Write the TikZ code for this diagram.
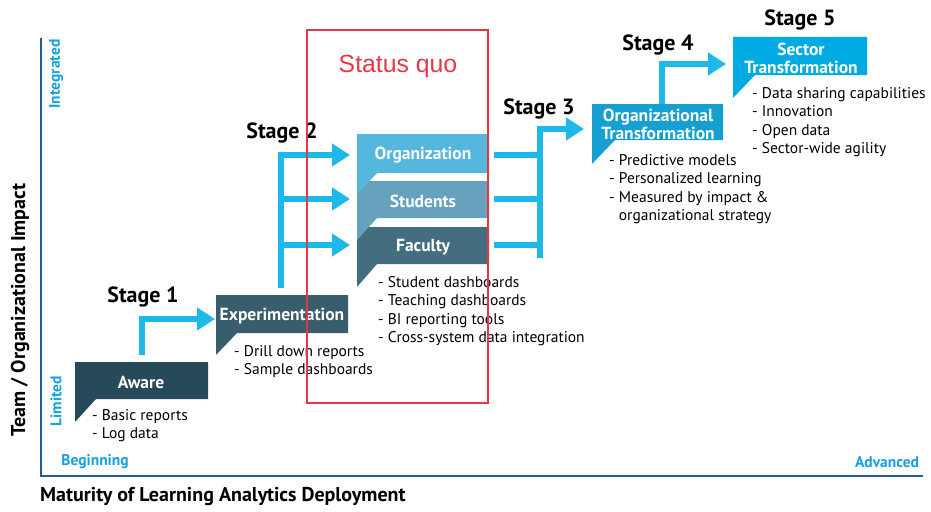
\documentclass[tikz,border=0pt]{standalone}
\usepackage{fontspec}
\setmainfont{PT Sans}
\newfontfamily\arialfont{Liberation Sans}
\usetikzlibrary{arrows.meta}
\definecolor{axisblue}{RGB}{30,90,160}
\definecolor{lblblue}{RGB}{20,160,225}
\definecolor{arrowblue}{RGB}{30,185,235}
\definecolor{awarecol}{RGB}{38,74,89}
\definecolor{expcol}{RGB}{56,93,109}
\definecolor{orgcol}{RGB}{85,183,222}
\definecolor{stucol}{RGB}{102,162,190}
\definecolor{faccol}{RGB}{66,110,128}
\definecolor{otcol}{RGB}{22,160,210}
\definecolor{sectcol}{RGB}{0,170,226}
\definecolor{sqred}{RGB}{230,55,70}
\tikzset{
  stagelbl/.style={font=\bfseries\fontsize{22}{22}\selectfont, inner sep=0},
  boxlbl/.style={text=white, font=\bfseries\fontsize{17.5}{18}\selectfont, align=center, inner sep=0},
  bullets/.style={font=\fontsize{15.5}{18.5}\selectfont, align=left, anchor=base west, inner sep=0},
  flow/.style={line width=6pt, draw=arrowblue, line join=miter, -{Triangle[width=22pt,length=18pt]}},
  bar/.style={line width=6pt, draw=arrowblue, line join=miter},
  axislbl/.style={text=lblblue, font=\bfseries\fontsize{15.5}{15.5}\selectfont, inner sep=0},
  axistitle/.style={font=\bfseries\fontsize{20}{20}\selectfont, inner sep=0},
}
\begin{document}
\begin{tikzpicture}[x=1pt,y=-1pt]
\useasboundingbox (0,0) rectangle (931,511);
% axes
\coordinate (ytop) at (41,38);
\coordinate (origin) at (41,476);
\coordinate (xend) at (923,476);
\draw[axisblue, line width=2.2pt] (ytop) -- (origin) -- (xend);
\node[axislbl, rotate=90] (integ) at (56,74) {Integrated};
\node[axislbl, rotate=90] (limit) at (56,401) {Limited};
\node[axislbl] (begin) at (95,462) {Beginning};
\node[axislbl] (adv) at (887,462) {Advanced};
\node[axistitle, rotate=90] (ytitle) at (20,310) {Team / Organizational Impact};
\node[axistitle, anchor=west] (xtitle) at (40,497) {Maturity of Learning Analytics Deployment};

% Aware (anchor = baseline of last line)
\fill[awarecol] (75,362) -- (208,362) -- (208,399) -- (96,399) -- (75,422) -- cycle;
\node[boxlbl] (aware) at (141,382) {Aware};
\node[bullets] (awareb) at (92,438.5) {- Basic reports\\- Log data};

% Experimentation
\fill[expcol] (216,295) -- (348,295) -- (348,333) -- (237,333) -- (216,355) -- cycle;
\node[boxlbl] (exper) at (282,316) {Experimentation};
\node[bullets] (experb) at (234,374.5) {- Drill down reports\\- Sample dashboards};

% Faculty, Students, Organization
\fill[faccol] (357,227) -- (489,227) -- (489,264) -- (377,264) -- (357,287) -- cycle;
\fill[stucol] (357,181) -- (489,181) -- (489,218) -- (377,218) -- (357,240) -- cycle;
\fill[orgcol] (357,134) -- (489,134) -- (489,173) -- (377,173) -- (357,194) -- cycle;
\node[boxlbl] (org) at (423,155) {Organization};
\node[boxlbl] (stu) at (423,201) {Students};
\node[boxlbl] (fac) at (423,247) {Faculty};
\node[bullets] (facb) at (378,342.5) {- Student dashboards\\- Teaching dashboards\\- BI reporting tools\\- Cross-system data integration};

% Organizational Transformation
\fill[otcol] (592,104) -- (723,104) -- (723,140) -- (615,140) -- (592,164) -- cycle;
\node[boxlbl] (ot) at (658,124) {Organizational\\Transformation};
\node[bullets] (otb) at (609,220.5) {- Predictive models\\- Personalized learning\\- Measured by impact \&\\\hphantom{- }organizational strategy};

% Sector Transformation
\fill[sectcol] (733,37) -- (867,37) -- (867,75) -- (755,75) -- (733,98) -- cycle;
\node[boxlbl] (sect) at (801,58) {Sector\\Transformation};
\node[bullets] (sectb) at (752,153.5) {- Data sharing capabilities\\- Innovation\\- Open data\\- Sector-wide agility};

% Stage labels
\node[stagelbl] (s1) at (143,297) {Stage 1};
\node[stagelbl] (s2) at (282,133) {Stage 2};
\node[stagelbl] (s3) at (539,109) {Stage 3};
\node[stagelbl] (s4) at (658,45) {Stage 4};
\node[stagelbl] (s5) at (800,20) {Stage 5};

% Stage 1 arrow
\coordinate (a1s) at (142,355);
\coordinate (a1c) at (142,319);
\coordinate (a1e) at (215,319);
\draw[flow] (a1s) -- (a1c) -- (a1e);

% Stage 2 arrows
\coordinate (a2s) at (281,288);
\coordinate (a2o) at (281,155);
\coordinate (a2st) at (281,199);
\coordinate (a2f) at (281,245);
\coordinate (a2oe) at (350,155);
\coordinate (a2ste) at (350,199);
\coordinate (a2fe) at (350,245);
\draw[flow] (a2s) -- (a2o) -- (a2oe);
\draw[flow] (a2st) -- (a2ste);
\draw[flow] (a2f) -- (a2fe);

% Stage 3 arrows
\coordinate (b3o) at (494,155);
\coordinate (b3s) at (494,199);
\coordinate (b3f) at (494,245);
\coordinate (v3o) at (540,155);
\coordinate (v3s) at (540,199);
\coordinate (v3f) at (540,245);
\coordinate (v3b) at (540,258);
\coordinate (v3t) at (540,129);
\coordinate (a3e) at (584,129);
\draw[bar] (b3o) -- (v3o);
\draw[bar] (b3s) -- (v3s);
\draw[bar] (b3f) -- (v3f);
\draw[flow] (v3b) -- (v3t) -- (a3e);

% Stage 4 arrow
\coordinate (a4s) at (662,104);
\coordinate (a4c) at (662,64);
\coordinate (a4e) at (726,64);
\draw[flow] (a4s) -- (a4c) -- (a4e);

% Status quo
\coordinate (sqtl) at (307,30);
\coordinate (sqbr) at (488,403);
\draw[sqred, line width=1.2pt] (sqtl) rectangle (sqbr);
\node[text=sqred, font=\arialfont\fontsize{24.8}{24.8}\selectfont, inner sep=0] (sq) at (398,66) {Status quo};
\end{tikzpicture}
\end{document}
